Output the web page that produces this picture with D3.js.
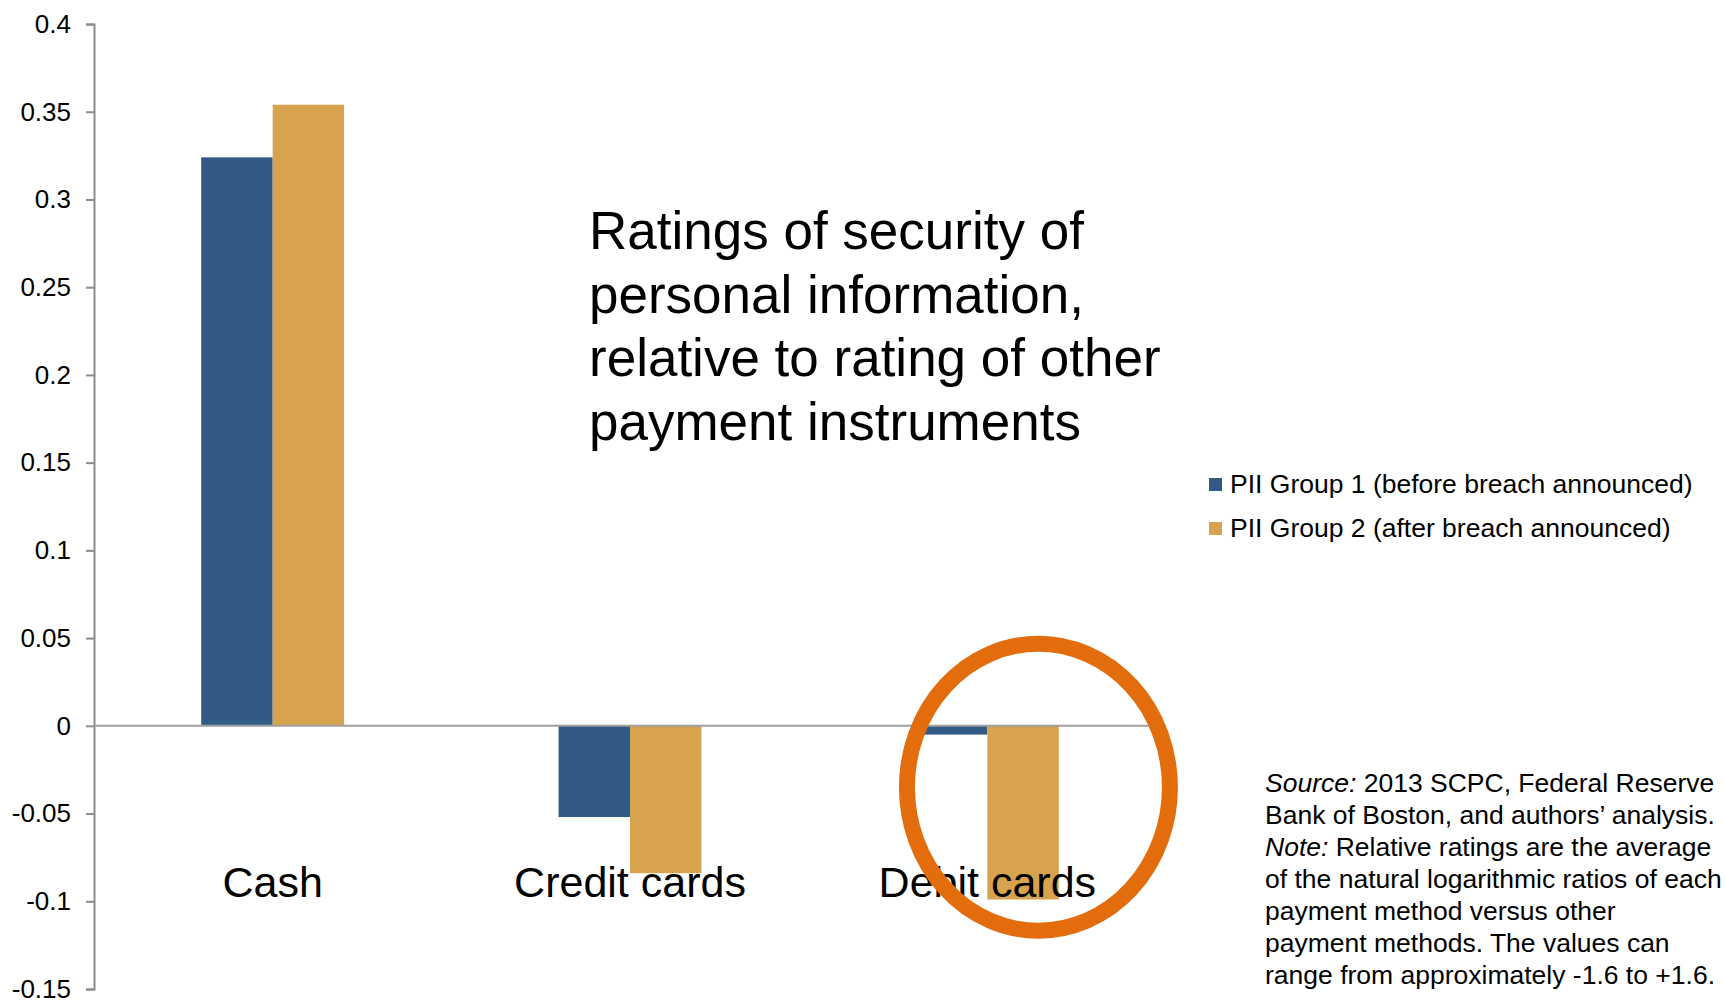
<!DOCTYPE html>
<html>
<head>
<meta charset="utf-8">
<script src="https://cdn.jsdelivr.net/npm/d3@7"></script>
<style>
  body { margin: 0; background: #fff; }
  svg { display: block; font-family: "Liberation Sans", Arial, sans-serif; }
</style>
</head>
<body>
<div id="chart"></div>
<script>
// data
var categories = ["Cash", "Credit cards", "Debit cards"]
var groups = ["PII Group 1 (before breach announced)", "PII Group 2 (after breach announced)"]
var group1 = [0.324, -0.052, -0.005]
var group2 = [0.354, -0.084, -0.099]
var yTicks = [0.4, 0.35, 0.3, 0.25, 0.2, 0.15, 0.1, 0.05, 0, -0.05, -0.1, -0.15]
var titleLines = ["Ratings of security of", "personal information,", "relative to rating of other", "payment instruments"]
var noteLines = [
  ["Source:", " 2013 SCPC, Federal Reserve"],
  ["", "Bank of Boston, and authors\u2019 analysis."],
  ["Note:", " Relative ratings are the average"],
  ["", "of the natural logarithmic ratios of each"],
  ["", "payment method versus other"],
  ["", "payment methods. The values can"],
  ["", "range from approximately -1.6 to +1.6."]
]

var W = 1725, H = 1000
var svg = d3.select("#chart").append("svg")
  .attr("width", W)
  .attr("height", H)

var color = d3.scaleOrdinal().domain(groups).range(["#315b85", "#d8a34e"])

var x = d3.scaleBand().domain(categories).range([94, 1166]).padding(0)
var xs = d3.scaleBand().domain(groups)
  .range([x.bandwidth() * 0.3, x.bandwidth() * 0.7])
var y = d3.scaleLinear().domain([-0.15, 0.4]).range([989, 24])

var rows = categories.map(function (c, i) {
  return { cat: c, vals: [group1[i], group2[i]] }
})

// y axis (plain hyphen for negatives, like the original)
var yAxis = svg.append("g")
  .attr("transform", "translate(94,0)")
  .call(d3.axisLeft(y).tickValues(yTicks).tickSize(8).tickPadding(15)
    .tickFormat(function (d) { return String(+d.toFixed(2)) }))
yAxis.select(".domain").attr("stroke", "#8c8c8c").attr("stroke-width", 2)
yAxis.selectAll(".tick line").attr("stroke", "#8c8c8c").attr("stroke-width", 2)
yAxis.selectAll(".tick text")
  .attr("fill", "#000")
  .style("font-size", "26px")
  .style("font-family", "'Liberation Sans', Arial, sans-serif")

// bars
var g = svg.append("g").selectAll("g")
  .data(rows)
  .enter()
  .append("g")
  .attr("transform", function (d) { return "translate(" + x(d.cat) + ",0)" })

g.selectAll("rect")
  .data(function (d) { return d.vals.map(function (v, j) { return { key: groups[j], v: v } }) })
  .enter()
  .append("rect")
  .attr("x", function (d) { return xs(d.key) })
  .attr("width", xs.bandwidth())
  .attr("y", function (d) { return y(Math.max(0, d.v)) })
  .attr("height", function (d) { return Math.abs(y(d.v) - y(0)) })
  .attr("fill", function (d) { return color(d.key) })

// zero line
svg.append("line")
  .attr("x1", 94).attr("x2", 1166)
  .attr("y1", y(0)).attr("y2", y(0))
  .attr("stroke", "#a0a0a0")
  .attr("stroke-width", 2)

// category labels
svg.selectAll(".catlabel")
  .data(categories)
  .enter()
  .append("text")
  .attr("class", "catlabel")
  .attr("x", function (d) { return x(d) + x.bandwidth() / 2 })
  .attr("y", 897)
  .attr("text-anchor", "middle")
  .style("font-size", "43px")
  .text(function (d) { return d })

// orange ring round debit cards
svg.append("ellipse")
  .attr("cx", x("Debit cards") + x.bandwidth() * 0.643)
  .attr("cy", y(-0.035))
  .attr("rx", 131.5)
  .attr("ry", 143.5)
  .attr("fill", "none")
  .attr("stroke", "#e36c0d")
  .attr("stroke-width", 16)

// title
svg.append("text")
  .attr("x", 589)
  .style("font-size", "53px")
  .selectAll("tspan")
  .data(titleLines)
  .enter()
  .append("tspan")
  .attr("x", 589)
  .attr("y", function (d, i) { return 249 + i * 63.5 })
  .text(function (d) { return d })

// legend
var leg = svg.append("g").selectAll("g")
  .data(groups)
  .enter()
  .append("g")
  .attr("transform", function (d, i) { return "translate(1209," + (478 + i * 44) + ")" })
leg.append("rect")
  .attr("width", 13).attr("height", 13)
  .attr("fill", function (d) { return color(d) })
leg.append("text")
  .attr("x", 21)
  .attr("y", 15)
  .style("font-size", "26.5px")
  .text(function (d) { return d })

// source note
var note = svg.append("text").style("font-size", "26.5px")
noteLines.forEach(function (l, i) {
  var t = note.append("tspan").attr("x", 1265).attr("y", 792 + i * 32)
  if (l[0]) {
    t.style("font-style", "italic").text(l[0])
    note.append("tspan").text(l[1])
  } else {
    t.text(l[1])
  }
})
</script>
</body>
</html>
